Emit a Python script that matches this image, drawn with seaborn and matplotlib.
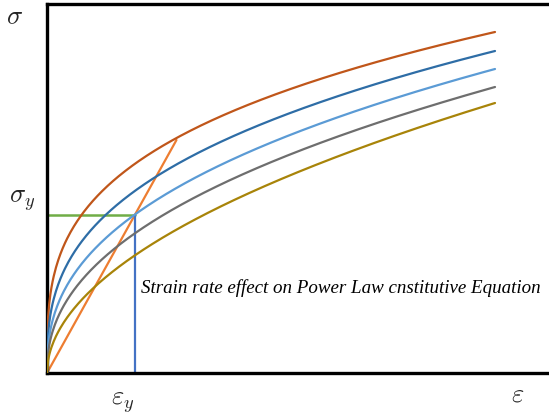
import numpy as np
import pandas as pd
import matplotlib
matplotlib.use("Agg")
import matplotlib.pyplot as plt
import seaborn as sns

# Power-law flow curves sigma = K * eps^n, one per strain rate (highest rate first)
series_names = ["rate 5", "rate 4", "rate 3", "rate 2", "rate 1"]
strength_K = [3.41, 3.22, 3.04, 2.86, 2.70]
hardening_n = [0.30, 0.35, 0.40, 0.44, 0.51]
curve_colors = ["#C0561A", "#2E6DA6", "#5B9BD5", "#6E6E6E", "#A88409"]
eps_max = 1.0

# Yield point and elastic line
eps_y = 0.196
sigma_y = 1.58
elastic_end = 0.289

sns.set_theme(style="white")
plt.rcParams["mathtext.fontset"] = "cm"

fig = plt.figure(figsize=(5.49, 4.2), dpi=100)
ax = fig.add_axes([47 / 549, 47 / 420, 502 / 549, 369 / 420])

eps = np.linspace(0, eps_max, 400)
frames = []
for name, K, n in zip(series_names, strength_K, hardening_n):
    frames.append(pd.DataFrame({"strain": eps, "stress": K * eps ** n, "rate": name}))
df = pd.concat(frames, ignore_index=True)

sns.lineplot(data=df, x="strain", y="stress", hue="rate", palette=curve_colors,
             hue_order=series_names, linewidth=1.6, legend=False, ax=ax, zorder=3)

# Elastic loading line through the yield point
slope = sigma_y / eps_y
ax.plot([0, elastic_end], [0, slope * elastic_end], color="#ED7D31", lw=1.6, zorder=2)

# Yield markers
ax.plot([0, eps_y], [sigma_y, sigma_y], color="#70AD47", lw=1.8, zorder=2)
ax.plot([eps_y, eps_y], [0, sigma_y], color="#4472C4", lw=1.6, zorder=2)

ax.set_xlim(0, 502 / 448)
ax.set_ylim(0, 3.69)
ax.set_xticks([])
ax.set_yticks([])
ax.set_xlabel("")
ax.set_ylabel("")
for side in ["left", "top", "bottom", "right"]:
    ax.spines[side].set_color("black")
    ax.spines[side].set_linewidth(2.4)
ax.spines["right"].set_visible(False)

ax.text(0.21, 0.85, "Strain rate effect on Power Law cnstitutive Equation",
        fontsize=13.7, fontstyle="italic", family="Liberation Serif",
        ha="left", va="center", color="black")

fig.text(15 / 549, 1 - 17 / 420, r"$\sigma$", fontsize=19, ha="center", va="center")
fig.text(22 / 549, 1 - 200 / 420, r"$\sigma_y$", fontsize=19, ha="center", va="center")
fig.text(123 / 549, 1 - 402 / 420, r"$\varepsilon_y$", fontsize=19, ha="center", va="center")
fig.text(518 / 549, 1 - 395 / 420, r"$\varepsilon$", fontsize=19, ha="center", va="center")

fig.savefig("out.png", dpi=100)
